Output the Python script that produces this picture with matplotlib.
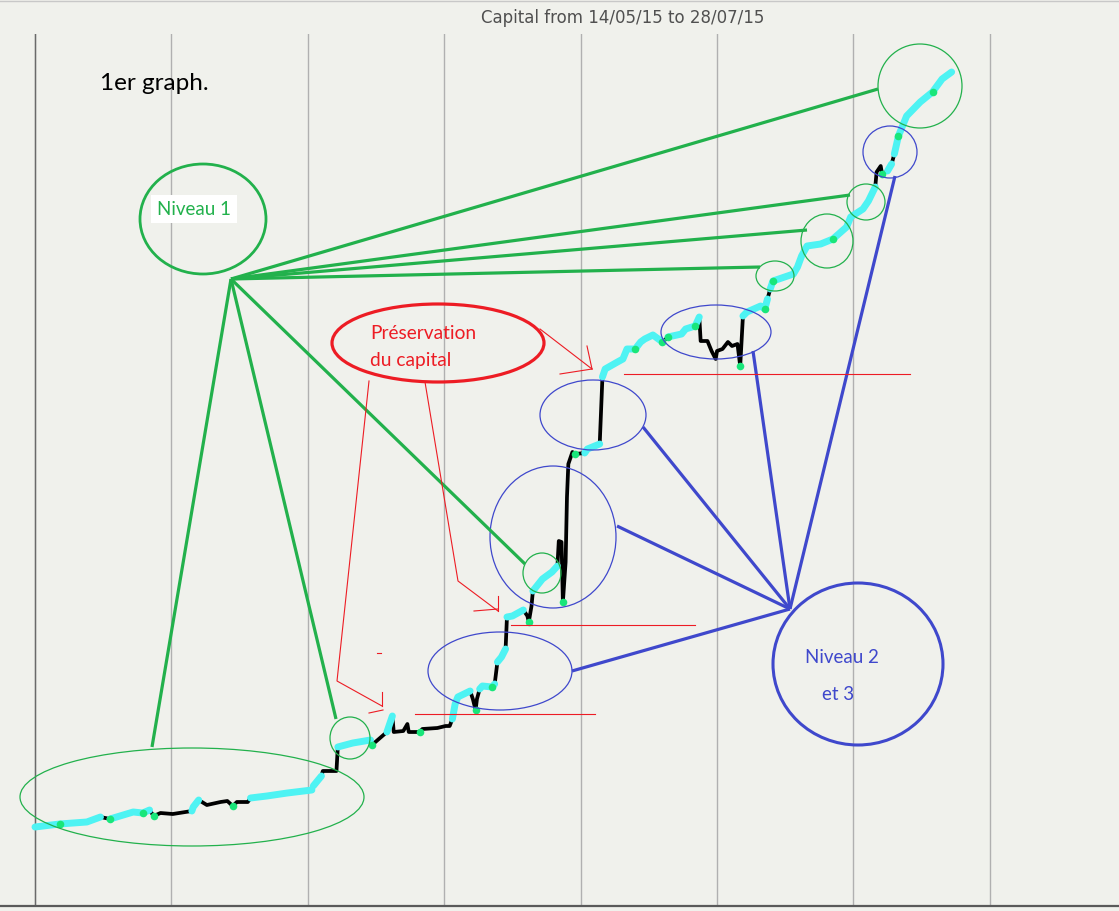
import numpy as np
import matplotlib
matplotlib.use("Agg")
import matplotlib.pyplot as plt
from matplotlib.patches import Ellipse

# capital curve (trade number, capital)
trade = [0, 18, 38, 48, 55, 72, 79, 84, 87, 92, 101, 115, 116, 120, 126, 136, 141, 145, 148, 152,
         156, 158, 170, 185, 203, 204, 210, 211, 221, 222, 233, 246, 247, 258, 262, 263, 270, 273, 274, 282,
         284, 295, 301, 304, 306, 308, 310, 319, 321, 323, 324, 326, 328, 335, 337, 339, 342, 345, 346, 350,
         358, 361, 362, 364, 365, 372, 379, 383, 384, 386, 387, 389, 390, 391, 394, 396, 403, 405, 414, 416,
         418, 427, 431, 434, 440, 444, 447, 453, 460, 464, 474, 477, 484, 487, 488, 493, 496, 499, 500, 504,
         508, 511, 515, 517, 519, 522, 532, 535, 537, 539, 541, 556, 559, 562, 566, 576, 585, 595, 598, 607,
         611, 616, 617, 620, 621, 625, 628, 630, 633, 636, 639, 649, 658, 665, 672]
capital = [1000, 1030, 1050, 1100, 1080, 1150, 1140, 1170, 1110, 1140, 1130, 1160, 1200, 1270, 1220, 1250, 1260, 1210, 1250, 1250,
           1250, 1290, 1310, 1340, 1370, 1410, 1510, 1560, 1560, 1800, 1840, 1870, 1820, 1950, 2110, 1950, 1960, 2030, 1950, 1950,
           1980, 1990, 2010, 2010, 2080, 2230, 2300, 2360, 2280, 2170, 2280, 2380, 2410, 2400, 2430, 2650, 2700, 2780, 3100, 3110,
           3170, 3110, 3050, 3210, 3360, 3480, 3550, 3610, 3860, 3850, 3250, 3650, 4300, 4630, 4750, 4730, 4740, 4780, 4830, 5500,
           5580, 5650, 5680, 5780, 5780, 5850, 5880, 5920, 5850, 5900, 5930, 5980, 6010, 6100, 5860, 5860, 5760, 5680, 5760, 5780,
           5850, 5810, 5830, 5610, 6110, 6150, 6210, 6180, 6280, 6380, 6460, 6530, 6600, 6710, 6810, 6830, 6880, 7000, 7100, 7180,
           7260, 7400, 7550, 7610, 7530, 7560, 7630, 7730, 7910, 8010, 8110, 8250, 8350, 8480, 8550]

# stretches drawn in cyan (trade ranges)
cyan_ranges = [(0, 48), (55, 84), (115, 120), (158, 203), (204, 210), (222, 246), (255, 262),
               (306, 319), (326, 337), (339, 345), (346, 358), (365, 383), (403, 414), (416, 460),
               (464, 487), (519, 537), (539, 616), (625, 628), (630, 672)]
# trades marked with a green dot
green_trades = [18, 55, 79, 87, 145, 247, 282, 323, 335, 362, 387, 396, 440, 460, 464,
                484, 517, 535, 541, 585, 621, 633, 658]

title = "Capital from 14/05/15 to 28/07/15"
xticks = [0, 100, 200, 300, 400, 500, 600, 700]

bg = "#f0f1ec"
cyan = "#4ef3f3"
dotgreen = "#19e67a"
green = "#22b14c"
red = "#ed1c24"
blue = "#3f48cc"

trade = np.array(trade)
capital = np.array(capital)

fig = plt.figure(figsize=(11.19, 9.12), dpi=100)
fig.patch.set_facecolor(bg)

ax = fig.add_axes([0, 5 / 912, 1, 872 / 912])
ax.set_facecolor(bg)
ax.set_xlim(-25.66, 794.7)
ax.set_ylim(210, 8930)
ax.set_xticks(xticks)
ax.set_xticklabels([str(t) for t in xticks], fontsize=8, color="#404040")
ax.tick_params(axis="x", length=0, pad=3)
ax.set_yticks([])
ax.grid(axis="x", color="#b0b0b0", lw=1)
ax.axvline(0, color="#6a6a6a", lw=1)
for s in ["top", "left", "right"]:
    ax.spines[s].set_visible(False)
ax.spines["bottom"].set_color("#5a5a5a")
ax.spines["bottom"].set_linewidth(1.6)

ax.plot(trade, capital, color="black", lw=2.7, solid_joinstyle="round", zorder=3)
for a, b in cyan_ranges:
    m = (trade >= a) & (trade <= b)
    ax.plot(trade[m], capital[m], color=cyan, lw=5, solid_capstyle="round",
            solid_joinstyle="round", zorder=4)
gi = np.searchsorted(trade, green_trades)
ax.scatter(trade[gi], capital[gi], s=30, color=dotgreen, zorder=5, linewidths=0)

fig.text(623 / 1119, 1 - 18 / 912, title, ha="center", va="center", fontsize=12,
         color="#505050", family="DejaVu Sans")

# hand-drawn annotations, in picture pixels
an = fig.add_axes([0, 0, 1, 1], zorder=10)
an.set_xlim(0, 1119)
an.set_ylim(912, 0)
an.axis("off")
an.patch.set_alpha(0)

an.plot([0, 1119], [2, 2], color="#c8c8c8", lw=1)

def ell(cx, cy, rx, ry, col, lw):
    an.add_patch(Ellipse((cx, cy), 2 * rx, 2 * ry, fill=False, ec=col, lw=lw))

# green level 1
ell(203, 220, 63, 55, green, 2.0)
for ex, ey in [(152, 748), (336, 720), (525, 565), (760, 268), (807, 231), (850, 196), (878, 90)]:
    an.plot([231, ex], [280, ey], color=green, lw=2.3, solid_capstyle="butt")
for cx, cy, rx, ry in [(192, 798, 172, 49), (350, 739, 20, 21), (542, 574, 19, 20),
                       (775, 277, 19, 15), (827, 242, 26, 27), (866, 203, 19, 18), (920, 87, 42, 42)]:
    ell(cx, cy, rx, ry, green, 0.9)

# blue levels 2 and 3
ell(858, 665, 85, 81, blue, 2.2)
for ex, ey in [(572, 672), (617, 527), (643, 428), (753, 352), (895, 177)]:
    an.plot([790, ex], [610, ey], color=blue, lw=2.3, solid_capstyle="butt")
for cx, cy, rx, ry in [(500, 672, 72, 39), (553, 538, 63, 71), (593, 416, 53, 35),
                       (716, 333, 55, 27), (890, 153, 27, 26)]:
    ell(cx, cy, rx, ry, blue, 0.9)

# red capital preservation
ell(438, 344, 106, 39, red, 2.3)
an.plot([369, 337, 382], [382, 682, 707], color=red, lw=0.8)
an.plot([382, 382], [693, 707], color=red, lw=0.8)
an.plot([369, 383], [714, 711], color=red, lw=0.8)
an.plot([425, 458, 498], [383, 582, 612], color=red, lw=0.8)
an.plot([498, 498], [597, 612], color=red, lw=0.8)
an.plot([474, 498], [612, 610], color=red, lw=0.8)
an.plot([540, 592], [330, 370], color=red, lw=0.8)
an.plot([587, 592], [347, 370], color=red, lw=0.8)
an.plot([560, 592], [375, 370], color=red, lw=0.8)
an.plot([377, 381], [654, 654], color=red, lw=0.8)
an.plot([415, 595], [715, 715], color=red, lw=0.8)
an.plot([511, 695], [626, 626], color=red, lw=0.8)
an.plot([624, 910], [375, 375], color=red, lw=0.8)

an.text(100, 84, "1er graph.", fontsize=17.5, color="black", family="Lato", va="center")
an.text(157, 210, "Niveau 1", fontsize=13.5, color=green, family="Lato", va="center",
        bbox=dict(facecolor="white", edgecolor="none", pad=4))
an.text(370, 334, "Préservation", fontsize=13.8, color=red, family="Lato", va="center")
an.text(370, 361, "du capital", fontsize=13.8, color=red, family="Lato", va="center")
an.text(805, 658, "Niveau 2", fontsize=13.5, color=blue, family="Lato", va="center")
an.text(822, 695, "et 3", fontsize=13.5, color=blue, family="Lato", va="center")

fig.savefig("out.png", dpi=100, facecolor=bg)
